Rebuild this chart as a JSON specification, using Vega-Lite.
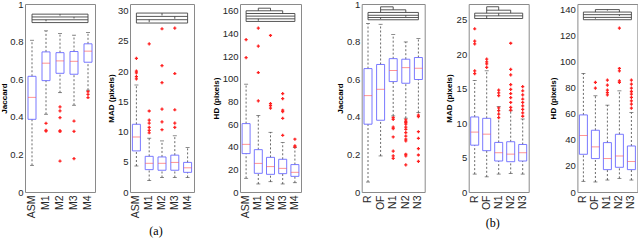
{
"$schema": "https://vega.github.io/schema/vega-lite/v6.json",
"padding": {"left": -1, "top": -2, "right": 0, "bottom": 0},
"config": {
  "font": "Liberation Sans",
  "axis": {"labelFont": "Liberation Sans", "labelFontSize": 9.5, "labelColor": "#262626", "titleFont": "Liberation Sans", "titleFontSize": 8, "titleFontWeight": "bold", "titleColor": "#000000", "ticks": false, "domain": false, "grid": false},
  "axisX": {"labelFontSize": 10.5, "labelAngle": -90, "labelAlign": "right", "labelBaseline": "middle", "labelPadding": 3, "title": null},
  "axisY": {"labelPadding": 2, "titlePadding": 2, "labelOverlap": false, "labelBound": false},
  "view": {"stroke": "#8a8a8a", "strokeWidth": 1}
},
"datasets": {
  "boxes": [
    {"p":1,"g":"ASM","lo":0.142,"q1":0.387,"med":0.504,"q3":0.616,"hi":0.808},
    {"p":1,"g":"M1","lo":0.414,"q1":0.593,"med":0.686,"q3":0.746,"hi":0.858},
    {"p":1,"g":"M2","lo":0.529,"q1":0.632,"med":0.698,"q3":0.742,"hi":0.844},
    {"p":1,"g":"M3","lo":0.462,"q1":0.627,"med":0.696,"q3":0.748,"hi":0.835},
    {"p":1,"g":"M4","lo":0.542,"q1":0.691,"med":0.750,"q3":0.789,"hi":0.849},
    {"p":2,"g":"ASM","lo":4.3,"q1":6.8,"med":9.1,"q3":11.2,"hi":17.7},
    {"p":2,"g":"M1","lo":1.9,"q1":3.7,"med":4.75,"q3":5.9,"hi":8.9},
    {"p":2,"g":"M2","lo":2.4,"q1":3.6,"med":4.75,"q3":5.8,"hi":8.45},
    {"p":2,"g":"M3","lo":2.4,"q1":3.6,"med":4.9,"q3":6.1,"hi":9.3},
    {"p":2,"g":"M4","lo":2.4,"q1":3.25,"med":4.0,"q3":4.9,"hi":7.35},
    {"p":3,"g":"ASM","lo":12.1,"q1":33.9,"med":42.1,"q3":60.4,"hi":95.2},
    {"p":3,"g":"M1","lo":7.1,"q1":16.5,"med":25.3,"q3":37.4,"hi":67.5},
    {"p":3,"g":"M2","lo":9.1,"q1":15.6,"med":22.4,"q3":30.6,"hi":52.7},
    {"p":3,"g":"M3","lo":7.1,"q1":16.2,"med":20.9,"q3":28.9,"hi":43.6},
    {"p":3,"g":"M4","lo":8.2,"q1":13.8,"med":17.4,"q3":24.2,"hi":39.2},
    {"p":4,"g":"R","lo":0.053,"q1":0.361,"med":0.513,"q3":0.657,"hi":0.897},
    {"p":4,"g":"OF","lo":0.192,"q1":0.382,"med":0.547,"q3":0.679,"hi":0.893},
    {"p":4,"g":"N1","lo":0.405,"q1":0.588,"med":0.647,"q3":0.710,"hi":0.838},
    {"p":4,"g":"N2","lo":0.393,"q1":0.579,"med":0.662,"q3":0.707,"hi":0.799},
    {"p":4,"g":"N3","lo":0.423,"q1":0.599,"med":0.659,"q3":0.716,"hi":0.817},
    {"p":5,"g":"R","lo":2.6,"q1":6.8,"med":8.7,"q3":10.9,"hi":16.2},
    {"p":5,"g":"OF","lo":2.2,"q1":6.0,"med":8.4,"q3":10.7,"hi":17.6},
    {"p":5,"g":"N1","lo":2.6,"q1":4.5,"med":5.7,"q3":7.2,"hi":12.4},
    {"p":5,"g":"N2","lo":2.7,"q1":4.4,"med":5.5,"q3":7.3,"hi":11.8},
    {"p":5,"g":"N3","lo":2.6,"q1":4.5,"med":5.7,"q3":6.9,"hi":10.6},
    {"p":6,"g":"R","lo":8.2,"q1":29.0,"med":43.4,"q3":59.3,"hi":91.2},
    {"p":6,"g":"OF","lo":7.7,"q1":25.7,"med":34.7,"q3":47.5,"hi":74.0},
    {"p":6,"g":"N1","lo":9.2,"q1":17.2,"med":25.7,"q3":38.0,"hi":66.8},
    {"p":6,"g":"N2","lo":10.5,"q1":19.0,"med":27.7,"q3":44.4,"hi":77.8},
    {"p":6,"g":"N3","lo":9.2,"q1":17.2,"med":23.4,"q3":35.4,"hi":61.1}
  ],
  "outl": [
    {"p":1,"g":"M1","v":0.366},{"p":1,"g":"M1","v":0.328},{"p":1,"g":"M1","v":0.324},
    {"p":1,"g":"M2","v":0.453},{"p":1,"g":"M2","v":0.432},{"p":1,"g":"M2","v":0.396},{"p":1,"g":"M2","v":0.327},{"p":1,"g":"M2","v":0.322},{"p":1,"g":"M2","v":0.165},
    {"p":1,"g":"M3","v":0.378},{"p":1,"g":"M3","v":0.323},{"p":1,"g":"M3","v":0.178},
    {"p":1,"g":"M4","v":0.535},{"p":1,"g":"M4","v":0.520},{"p":1,"g":"M4","v":0.503},
    {"p":2,"g":"ASM","v":22.1},{"p":2,"g":"ASM","v":20.0},{"p":2,"g":"ASM","v":19.7},{"p":2,"g":"ASM","v":19.1},{"p":2,"g":"ASM","v":18.7},
    {"p":2,"g":"M1","v":24.5},{"p":2,"g":"M1","v":13.4},{"p":2,"g":"M1","v":11.9},{"p":2,"g":"M1","v":11.4},{"p":2,"g":"M1","v":10.7},{"p":2,"g":"M1","v":10.2},{"p":2,"g":"M1","v":9.8},
    {"p":2,"g":"M2","v":27.0},{"p":2,"g":"M2","v":20.9},{"p":2,"g":"M2","v":18.1},{"p":2,"g":"M2","v":13.7},{"p":2,"g":"M2","v":11.6},{"p":2,"g":"M2","v":10.3},
    {"p":2,"g":"M3","v":27.1},{"p":2,"g":"M3","v":19.6},{"p":2,"g":"M3","v":13.6},{"p":2,"g":"M3","v":11.4},{"p":2,"g":"M3","v":10.7},
    {"p":3,"g":"ASM","v":134.6},{"p":3,"g":"ASM","v":118.7},
    {"p":3,"g":"M1","v":144.7},{"p":3,"g":"M1","v":128.8},{"p":3,"g":"M1","v":105.5},{"p":3,"g":"M1","v":80.4},
    {"p":3,"g":"M2","v":138.2},{"p":3,"g":"M2","v":78.1},{"p":3,"g":"M2","v":76.3},{"p":3,"g":"M2","v":74.0},
    {"p":3,"g":"M3","v":86.9},{"p":3,"g":"M3","v":82.5},{"p":3,"g":"M3","v":72.2},{"p":3,"g":"M3","v":71.0},{"p":3,"g":"M3","v":65.1},{"p":3,"g":"M3","v":50.1},
    {"p":3,"g":"M4","v":46.6},{"p":3,"g":"M4","v":40.7},{"p":3,"g":"M4","v":39.8},
    {"p":4,"g":"N1","v":0.396},{"p":4,"g":"N1","v":0.387},{"p":4,"g":"N1","v":0.346},{"p":4,"g":"N1","v":0.337},{"p":4,"g":"N1","v":0.293},{"p":4,"g":"N1","v":0.218},{"p":4,"g":"N1","v":0.192},{"p":4,"g":"N1","v":0.179},
    {"p":4,"g":"N2","v":0.384},{"p":4,"g":"N2","v":0.375},{"p":4,"g":"N2","v":0.369},{"p":4,"g":"N2","v":0.361},{"p":4,"g":"N2","v":0.346},{"p":4,"g":"N2","v":0.334},{"p":4,"g":"N2","v":0.316},{"p":4,"g":"N2","v":0.298},{"p":4,"g":"N2","v":0.281},{"p":4,"g":"N2","v":0.272},{"p":4,"g":"N2","v":0.201},{"p":4,"g":"N2","v":0.192},{"p":4,"g":"N2","v":0.144},
    {"p":4,"g":"N3","v":0.409},{"p":4,"g":"N3","v":0.401},{"p":4,"g":"N3","v":0.321},{"p":4,"g":"N3","v":0.286},{"p":4,"g":"N3","v":0.231},{"p":4,"g":"N3","v":0.197},{"p":4,"g":"N3","v":0.163},
    {"p":5,"g":"R","v":23.7},{"p":5,"g":"R","v":21.9},{"p":5,"g":"R","v":21.5},{"p":5,"g":"R","v":17.6},{"p":5,"g":"R","v":17.2},
    {"p":5,"g":"OF","v":19.3},{"p":5,"g":"OF","v":18.9},{"p":5,"g":"OF","v":18.6},{"p":5,"g":"OF","v":18.1},
    {"p":5,"g":"N1","v":14.8},{"p":5,"g":"N1","v":14.4},{"p":5,"g":"N1","v":14.0},{"p":5,"g":"N1","v":12.2},{"p":5,"g":"N1","v":11.8},{"p":5,"g":"N1","v":11.3},{"p":5,"g":"N1","v":10.8},
    {"p":5,"g":"N2","v":21.6},{"p":5,"g":"N2","v":17.8},{"p":5,"g":"N2","v":17.0},{"p":5,"g":"N2","v":15.6},{"p":5,"g":"N2","v":14.9},{"p":5,"g":"N2","v":14.3},{"p":5,"g":"N2","v":13.7},{"p":5,"g":"N2","v":13.0},{"p":5,"g":"N2","v":12.3},{"p":5,"g":"N2","v":11.9},
    {"p":5,"g":"N3","v":15.3},{"p":5,"g":"N3","v":14.7},{"p":5,"g":"N3","v":14.1},{"p":5,"g":"N3","v":13.5},{"p":5,"g":"N3","v":13.0},{"p":5,"g":"N3","v":12.5},{"p":5,"g":"N3","v":12.0},{"p":5,"g":"N3","v":11.5},{"p":5,"g":"N3","v":11.0},
    {"p":6,"g":"OF","v":84.3},{"p":6,"g":"OF","v":79.9},
    {"p":6,"g":"N1","v":86.1},{"p":6,"g":"N1","v":82.2},{"p":6,"g":"N1","v":78.3},{"p":6,"g":"N1","v":76.5},{"p":6,"g":"N1","v":74.7},
    {"p":6,"g":"N2","v":126.1},{"p":6,"g":"N2","v":95.0},{"p":6,"g":"N2","v":93.2},{"p":6,"g":"N2","v":85.5},{"p":6,"g":"N2","v":84.3},
    {"p":6,"g":"N3","v":86.1},{"p":6,"g":"N3","v":83.0},{"p":6,"g":"N3","v":79.9},{"p":6,"g":"N3","v":77.3},{"p":6,"g":"N3","v":75.3},{"p":6,"g":"N3","v":72.7},{"p":6,"g":"N3","v":70.1},{"p":6,"g":"N3","v":67.6},{"p":6,"g":"N3","v":64.5}
  ],
  "br": [
    {"p":1,"a":"ASM","b":"M4","y":0.947,"y2":0.947},{"p":1,"a":"ASM","b":"M4","y":0.932,"y2":0.932},{"p":1,"a":"ASM","b":"M4","y":0.917,"y2":0.917},{"p":1,"a":"ASM","b":"M4","y":0.902,"y2":0.902},
    {"p":1,"a":"ASM","b":"ASM","y":0.947,"y2":0.902},{"p":1,"a":"M4","b":"M4","y":0.947,"y2":0.902},
    {"p":1,"a":"M2","b":"M2","y":0.947,"y2":0.939},{"p":1,"a":"M3","b":"M3","y":0.932,"y2":0.924},{"p":1,"a":"M1","b":"M1","y":0.917,"y2":0.909},
    {"p":2,"a":"ASM","b":"M4","y":29.6,"y2":29.6},{"p":2,"a":"ASM","b":"M4","y":29.05,"y2":29.05},{"p":2,"a":"ASM","b":"M4","y":28.5,"y2":28.5},{"p":2,"a":"ASM","b":"M4","y":27.95,"y2":27.95},
    {"p":2,"a":"ASM","b":"ASM","y":29.6,"y2":27.95},{"p":2,"a":"M4","b":"M4","y":29.6,"y2":27.95},
    {"p":2,"a":"M2","b":"M2","y":29.6,"y2":29.2},{"p":2,"a":"M3","b":"M3","y":29.05,"y2":28.65},{"p":2,"a":"M1","b":"M1","y":28.5,"y2":28.1},
    {"p":3,"a":"M1","b":"M2","y":162.3,"y2":162.3},{"p":3,"a":"M1","b":"M1","y":162.3,"y2":160},{"p":3,"a":"M2","b":"M2","y":162.3,"y2":160},
    {"p":3,"a":"ASM","b":"M3","y":160,"y2":160},{"p":3,"a":"M3","b":"M3","y":160,"y2":157.6},
    {"p":3,"a":"ASM","b":"M4","y":157.6,"y2":157.6},{"p":3,"a":"ASM","b":"M4","y":155.3,"y2":155.3},{"p":3,"a":"ASM","b":"M4","y":152.9,"y2":152.9},{"p":3,"a":"ASM","b":"M4","y":150.6,"y2":150.6},
    {"p":3,"a":"ASM","b":"ASM","y":160,"y2":150.6},{"p":3,"a":"M4","b":"M4","y":157.6,"y2":150.6},{"p":3,"a":"M1","b":"M1","y":152.9,"y2":151.2},
    {"p":4,"a":"OF","b":"N1","y":0.986,"y2":0.986},{"p":4,"a":"OF","b":"OF","y":0.986,"y2":0.956},{"p":4,"a":"N1","b":"N1","y":0.986,"y2":0.970},
    {"p":4,"a":"OF","b":"N2","y":0.970,"y2":0.970},{"p":4,"a":"N2","b":"N2","y":0.970,"y2":0.956},
    {"p":4,"a":"R","b":"N3","y":0.956,"y2":0.956},{"p":4,"a":"R","b":"N3","y":0.941,"y2":0.941},{"p":4,"a":"R","b":"N3","y":0.929,"y2":0.929},{"p":4,"a":"R","b":"N3","y":0.917,"y2":0.917},
    {"p":4,"a":"R","b":"R","y":0.956,"y2":0.917},{"p":4,"a":"N3","b":"N3","y":0.956,"y2":0.917},{"p":4,"a":"N2","b":"N2","y":0.941,"y2":0.933},{"p":4,"a":"OF","b":"OF","y":0.929,"y2":0.921},
    {"p":5,"a":"OF","b":"N1","y":26.9,"y2":26.9},{"p":5,"a":"OF","b":"OF","y":26.9,"y2":25.97},{"p":5,"a":"N1","b":"N1","y":26.9,"y2":26.4},
    {"p":5,"a":"OF","b":"N2","y":26.4,"y2":26.4},{"p":5,"a":"N2","b":"N2","y":26.4,"y2":25.97},
    {"p":5,"a":"R","b":"N3","y":25.97,"y2":25.97},{"p":5,"a":"R","b":"N3","y":25.58,"y2":25.58},{"p":5,"a":"R","b":"N3","y":25.19,"y2":25.19},
    {"p":5,"a":"R","b":"R","y":25.97,"y2":25.19},{"p":5,"a":"N3","b":"N3","y":25.97,"y2":25.19},{"p":5,"a":"N1","b":"N1","y":25.97,"y2":25.58},{"p":5,"a":"OF","b":"OF","y":25.58,"y2":25.19},
    {"p":6,"a":"OF","b":"N2","y":140.3,"y2":140.3},{"p":6,"a":"OF","b":"OF","y":140.3,"y2":138.4},{"p":6,"a":"N2","b":"N2","y":140.3,"y2":138.4},{"p":6,"a":"N1","b":"N1","y":140.3,"y2":139.5},
    {"p":6,"a":"R","b":"N3","y":138.4,"y2":138.4},{"p":6,"a":"R","b":"N3","y":136.4,"y2":136.4},{"p":6,"a":"R","b":"N3","y":134.3,"y2":134.3},{"p":6,"a":"R","b":"N3","y":132.5,"y2":132.5},
    {"p":6,"a":"R","b":"R","y":138.4,"y2":132.5},{"p":6,"a":"N3","b":"N3","y":138.4,"y2":132.5},{"p":6,"a":"N2","b":"N2","y":136.4,"y2":135.4},{"p":6,"a":"OF","b":"OF","y":134.3,"y2":133.3}
  ]
},
"spacing": 33.7,
"hconcat": [
 {"spacing": 16, "hconcat": [
  {"spacing": 10, "hconcat": [
   {"width": 70, "height": 188,
    "layer": [
     {"data": {"name": "boxes"}, "transform": [{"filter": "datum.p === 1"}], "mark": {"type": "rule", "strokeDash": [2, 2], "color": "#444444", "strokeWidth": 0.8},
      "encoding": {"x": {"field": "g", "type": "nominal", "scale": {"domain": ["ASM","M1","M2","M3","M4"], "paddingInner": 0, "paddingOuter": 0}, "axis": {"title": null}},
       "y": {"field": "lo", "type": "quantitative", "scale": {"domain": [0, 1.001], "nice": false}, "axis": {"title": "Jaccard", "tickCount": 6, "format": ".1~f", "labelOverlap": false, "labelBound": false, "labelFlush": false, "minExtent": 15, "maxExtent": 15}}, "y2": {"field": "q1"}}},
     {"data": {"name": "boxes"}, "transform": [{"filter": "datum.p === 1"}], "mark": {"type": "rule", "strokeDash": [2, 2], "color": "#444444", "strokeWidth": 0.8},
      "encoding": {"x": {"field": "g", "type": "nominal"}, "y": {"field": "q3", "type": "quantitative"}, "y2": {"field": "hi"}}},
     {"data": {"name": "boxes"}, "transform": [{"filter": "datum.p === 1"}], "mark": {"type": "tick", "size": 4, "thickness": 0.8, "color": "#333333"},
      "encoding": {"x": {"field": "g", "type": "nominal"}, "y": {"field": "lo", "type": "quantitative"}}},
     {"data": {"name": "boxes"}, "transform": [{"filter": "datum.p === 1"}], "mark": {"type": "tick", "size": 4, "thickness": 0.8, "color": "#333333"},
      "encoding": {"x": {"field": "g", "type": "nominal"}, "y": {"field": "hi", "type": "quantitative"}}},
     {"data": {"name": "boxes"}, "transform": [{"filter": "datum.p === 1"}], "mark": {"type": "bar", "size": 8, "fill": "#ffffff", "fillOpacity": 0, "stroke": "#6a6aff", "strokeWidth": 0.9},
      "encoding": {"x": {"field": "g", "type": "nominal"}, "y": {"field": "q1", "type": "quantitative"}, "y2": {"field": "q3"}}},
     {"data": {"name": "boxes"}, "transform": [{"filter": "datum.p === 1"}], "mark": {"type": "tick", "size": 8, "thickness": 0.9, "color": "#ff5555"},
      "encoding": {"x": {"field": "g", "type": "nominal"}, "y": {"field": "med", "type": "quantitative"}}},
     {"data": {"name": "outl"}, "transform": [{"filter": "datum.p === 1"}], "mark": {"type": "point", "shape": "cross", "filled": true, "size": 10, "color": "#ff2020", "opacity": 1},
      "encoding": {"x": {"field": "g", "type": "nominal"}, "y": {"field": "v", "type": "quantitative"}}},
     {"data": {"name": "br"}, "transform": [{"filter": "datum.p === 1"}], "mark": {"type": "rule", "color": "#444444", "strokeWidth": 0.9},
      "encoding": {"x": {"field": "a", "type": "nominal"}, "x2": {"field": "b"}, "y": {"field": "y", "type": "quantitative"}, "y2": {"field": "y2"}}}
    ]},
   {"width": 64, "height": 188,
    "title": {"text": "(a)", "orient": "bottom", "font": "Liberation Serif", "fontSize": 12, "fontWeight": "normal", "color": "#000000", "offset": 8, "dx": -6},
    "layer": [
     {"data": {"name": "boxes"}, "transform": [{"filter": "datum.p === 2"}], "mark": {"type": "rule", "strokeDash": [2, 2], "color": "#444444", "strokeWidth": 0.8},
      "encoding": {"x": {"field": "g", "type": "nominal", "scale": {"domain": ["ASM","M1","M2","M3","M4"], "paddingInner": 0, "paddingOuter": 0}, "axis": {"title": null}},
       "y": {"field": "lo", "type": "quantitative", "scale": {"domain": [0, 31.1], "nice": false}, "axis": {"title": "MAD (pixels)", "tickCount": 7, "format": "d", "labelOverlap": false, "minExtent": 13, "maxExtent": 13}}, "y2": {"field": "q1"}}},
     {"data": {"name": "boxes"}, "transform": [{"filter": "datum.p === 2"}], "mark": {"type": "rule", "strokeDash": [2, 2], "color": "#444444", "strokeWidth": 0.8},
      "encoding": {"x": {"field": "g", "type": "nominal"}, "y": {"field": "q3", "type": "quantitative"}, "y2": {"field": "hi"}}},
     {"data": {"name": "boxes"}, "transform": [{"filter": "datum.p === 2"}], "mark": {"type": "tick", "size": 4, "thickness": 0.8, "color": "#333333"},
      "encoding": {"x": {"field": "g", "type": "nominal"}, "y": {"field": "lo", "type": "quantitative"}}},
     {"data": {"name": "boxes"}, "transform": [{"filter": "datum.p === 2"}], "mark": {"type": "tick", "size": 4, "thickness": 0.8, "color": "#333333"},
      "encoding": {"x": {"field": "g", "type": "nominal"}, "y": {"field": "hi", "type": "quantitative"}}},
     {"data": {"name": "boxes"}, "transform": [{"filter": "datum.p === 2"}], "mark": {"type": "bar", "size": 8, "fill": "#ffffff", "fillOpacity": 0, "stroke": "#6a6aff", "strokeWidth": 0.9},
      "encoding": {"x": {"field": "g", "type": "nominal"}, "y": {"field": "q1", "type": "quantitative"}, "y2": {"field": "q3"}}},
     {"data": {"name": "boxes"}, "transform": [{"filter": "datum.p === 2"}], "mark": {"type": "tick", "size": 8, "thickness": 0.9, "color": "#ff5555"},
      "encoding": {"x": {"field": "g", "type": "nominal"}, "y": {"field": "med", "type": "quantitative"}}},
     {"data": {"name": "outl"}, "transform": [{"filter": "datum.p === 2"}], "mark": {"type": "point", "shape": "cross", "filled": true, "size": 10, "color": "#ff2020", "opacity": 1},
      "encoding": {"x": {"field": "g", "type": "nominal"}, "y": {"field": "v", "type": "quantitative"}}},
     {"data": {"name": "br"}, "transform": [{"filter": "datum.p === 2"}], "mark": {"type": "rule", "color": "#444444", "strokeWidth": 0.9},
      "encoding": {"x": {"field": "a", "type": "nominal"}, "x2": {"field": "b"}, "y": {"field": "y", "type": "quantitative"}, "y2": {"field": "y2"}}}
    ]}
  ]},
  {"width": 61, "height": 188,
   "layer": [
     {"data": {"name": "boxes"}, "transform": [{"filter": "datum.p === 3"}], "mark": {"type": "rule", "strokeDash": [2, 2], "color": "#444444", "strokeWidth": 0.8},
      "encoding": {"x": {"field": "g", "type": "nominal", "scale": {"domain": ["ASM","M1","M2","M3","M4"], "paddingInner": 0, "paddingOuter": 0}, "axis": {"title": null}},
       "y": {"field": "lo", "type": "quantitative", "scale": {"domain": [0, 166], "nice": false}, "axis": {"title": "HD (pixels)", "tickCount": 9, "format": "d", "labelOverlap": false, "minExtent": 18, "maxExtent": 18}}, "y2": {"field": "q1"}}},
     {"data": {"name": "boxes"}, "transform": [{"filter": "datum.p === 3"}], "mark": {"type": "rule", "strokeDash": [2, 2], "color": "#444444", "strokeWidth": 0.8},
      "encoding": {"x": {"field": "g", "type": "nominal"}, "y": {"field": "q3", "type": "quantitative"}, "y2": {"field": "hi"}}},
     {"data": {"name": "boxes"}, "transform": [{"filter": "datum.p === 3"}], "mark": {"type": "tick", "size": 4, "thickness": 0.8, "color": "#333333"},
      "encoding": {"x": {"field": "g", "type": "nominal"}, "y": {"field": "lo", "type": "quantitative"}}},
     {"data": {"name": "boxes"}, "transform": [{"filter": "datum.p === 3"}], "mark": {"type": "tick", "size": 4, "thickness": 0.8, "color": "#333333"},
      "encoding": {"x": {"field": "g", "type": "nominal"}, "y": {"field": "hi", "type": "quantitative"}}},
     {"data": {"name": "boxes"}, "transform": [{"filter": "datum.p === 3"}], "mark": {"type": "bar", "size": 8, "fill": "#ffffff", "fillOpacity": 0, "stroke": "#6a6aff", "strokeWidth": 0.9},
      "encoding": {"x": {"field": "g", "type": "nominal"}, "y": {"field": "q1", "type": "quantitative"}, "y2": {"field": "q3"}}},
     {"data": {"name": "boxes"}, "transform": [{"filter": "datum.p === 3"}], "mark": {"type": "tick", "size": 8, "thickness": 0.9, "color": "#ff5555"},
      "encoding": {"x": {"field": "g", "type": "nominal"}, "y": {"field": "med", "type": "quantitative"}}},
     {"data": {"name": "outl"}, "transform": [{"filter": "datum.p === 3"}], "mark": {"type": "point", "shape": "cross", "filled": true, "size": 10, "color": "#ff2020", "opacity": 1},
      "encoding": {"x": {"field": "g", "type": "nominal"}, "y": {"field": "v", "type": "quantitative"}}},
     {"data": {"name": "br"}, "transform": [{"filter": "datum.p === 3"}], "mark": {"type": "rule", "color": "#444444", "strokeWidth": 0.9},
      "encoding": {"x": {"field": "a", "type": "nominal"}, "x2": {"field": "b"}, "y": {"field": "y", "type": "quantitative"}, "y2": {"field": "y2"}}}
   ]}
 ]},
 {"spacing": 19, "hconcat": [
  {"width": 63, "height": 188,
   "layer": [
     {"data": {"name": "boxes"}, "transform": [{"filter": "datum.p === 4"}], "mark": {"type": "rule", "strokeDash": [2, 2], "color": "#444444", "strokeWidth": 0.8},
      "encoding": {"x": {"field": "g", "type": "nominal", "scale": {"domain": ["R","OF","N1","N2","N3"], "paddingInner": 0, "paddingOuter": 0}, "axis": {"title": null}},
       "y": {"field": "lo", "type": "quantitative", "scale": {"domain": [0, 1.001], "nice": false}, "axis": {"title": "Jaccard", "tickCount": 6, "format": ".1~f", "labelOverlap": false, "labelBound": false, "labelFlush": false, "minExtent": 15, "maxExtent": 15}}, "y2": {"field": "q1"}}},
     {"data": {"name": "boxes"}, "transform": [{"filter": "datum.p === 4"}], "mark": {"type": "rule", "strokeDash": [2, 2], "color": "#444444", "strokeWidth": 0.8},
      "encoding": {"x": {"field": "g", "type": "nominal"}, "y": {"field": "q3", "type": "quantitative"}, "y2": {"field": "hi"}}},
     {"data": {"name": "boxes"}, "transform": [{"filter": "datum.p === 4"}], "mark": {"type": "tick", "size": 4, "thickness": 0.8, "color": "#333333"},
      "encoding": {"x": {"field": "g", "type": "nominal"}, "y": {"field": "lo", "type": "quantitative"}}},
     {"data": {"name": "boxes"}, "transform": [{"filter": "datum.p === 4"}], "mark": {"type": "tick", "size": 4, "thickness": 0.8, "color": "#333333"},
      "encoding": {"x": {"field": "g", "type": "nominal"}, "y": {"field": "hi", "type": "quantitative"}}},
     {"data": {"name": "boxes"}, "transform": [{"filter": "datum.p === 4"}], "mark": {"type": "bar", "size": 8, "fill": "#ffffff", "fillOpacity": 0, "stroke": "#6a6aff", "strokeWidth": 0.9},
      "encoding": {"x": {"field": "g", "type": "nominal"}, "y": {"field": "q1", "type": "quantitative"}, "y2": {"field": "q3"}}},
     {"data": {"name": "boxes"}, "transform": [{"filter": "datum.p === 4"}], "mark": {"type": "tick", "size": 8, "thickness": 0.9, "color": "#ff5555"},
      "encoding": {"x": {"field": "g", "type": "nominal"}, "y": {"field": "med", "type": "quantitative"}}},
     {"data": {"name": "outl"}, "transform": [{"filter": "datum.p === 4"}], "mark": {"type": "point", "shape": "cross", "filled": true, "size": 10, "color": "#ff2020", "opacity": 1},
      "encoding": {"x": {"field": "g", "type": "nominal"}, "y": {"field": "v", "type": "quantitative"}}},
     {"data": {"name": "br"}, "transform": [{"filter": "datum.p === 4"}], "mark": {"type": "rule", "color": "#444444", "strokeWidth": 0.9},
      "encoding": {"x": {"field": "a", "type": "nominal"}, "x2": {"field": "b"}, "y": {"field": "y", "type": "quantitative"}, "y2": {"field": "y2"}}}
   ]},
  {"spacing": 18.7, "hconcat": [
   {"width": 60, "height": 188,
    "title": {"text": "(b)", "orient": "bottom", "font": "Liberation Serif", "fontSize": 12, "fontWeight": "normal", "color": "#000000", "offset": 8, "dx": -6},
    "layer": [
     {"data": {"name": "boxes"}, "transform": [{"filter": "datum.p === 5"}], "mark": {"type": "rule", "strokeDash": [2, 2], "color": "#444444", "strokeWidth": 0.8},
      "encoding": {"x": {"field": "g", "type": "nominal", "scale": {"domain": ["R","OF","N1","N2","N3"], "paddingInner": 0, "paddingOuter": 0}, "axis": {"title": null}},
       "y": {"field": "lo", "type": "quantitative", "scale": {"domain": [0, 27.3], "nice": false}, "axis": {"title": "MAD (pixels)", "tickCount": 6, "format": "d", "labelOverlap": false, "minExtent": 13, "maxExtent": 13}}, "y2": {"field": "q1"}}},
     {"data": {"name": "boxes"}, "transform": [{"filter": "datum.p === 5"}], "mark": {"type": "rule", "strokeDash": [2, 2], "color": "#444444", "strokeWidth": 0.8},
      "encoding": {"x": {"field": "g", "type": "nominal"}, "y": {"field": "q3", "type": "quantitative"}, "y2": {"field": "hi"}}},
     {"data": {"name": "boxes"}, "transform": [{"filter": "datum.p === 5"}], "mark": {"type": "tick", "size": 4, "thickness": 0.8, "color": "#333333"},
      "encoding": {"x": {"field": "g", "type": "nominal"}, "y": {"field": "lo", "type": "quantitative"}}},
     {"data": {"name": "boxes"}, "transform": [{"filter": "datum.p === 5"}], "mark": {"type": "tick", "size": 4, "thickness": 0.8, "color": "#333333"},
      "encoding": {"x": {"field": "g", "type": "nominal"}, "y": {"field": "hi", "type": "quantitative"}}},
     {"data": {"name": "boxes"}, "transform": [{"filter": "datum.p === 5"}], "mark": {"type": "bar", "size": 8, "fill": "#ffffff", "fillOpacity": 0, "stroke": "#6a6aff", "strokeWidth": 0.9},
      "encoding": {"x": {"field": "g", "type": "nominal"}, "y": {"field": "q1", "type": "quantitative"}, "y2": {"field": "q3"}}},
     {"data": {"name": "boxes"}, "transform": [{"filter": "datum.p === 5"}], "mark": {"type": "tick", "size": 8, "thickness": 0.9, "color": "#ff5555"},
      "encoding": {"x": {"field": "g", "type": "nominal"}, "y": {"field": "med", "type": "quantitative"}}},
     {"data": {"name": "outl"}, "transform": [{"filter": "datum.p === 5"}], "mark": {"type": "point", "shape": "cross", "filled": true, "size": 10, "color": "#ff2020", "opacity": 1},
      "encoding": {"x": {"field": "g", "type": "nominal"}, "y": {"field": "v", "type": "quantitative"}}},
     {"data": {"name": "br"}, "transform": [{"filter": "datum.p === 5"}], "mark": {"type": "rule", "color": "#444444", "strokeWidth": 0.9},
      "encoding": {"x": {"field": "a", "type": "nominal"}, "x2": {"field": "b"}, "y": {"field": "y", "type": "quantitative"}, "y2": {"field": "y2"}}}
    ]},
   {"width": 60, "height": 188,
    "layer": [
     {"data": {"name": "boxes"}, "transform": [{"filter": "datum.p === 6"}], "mark": {"type": "rule", "strokeDash": [2, 2], "color": "#444444", "strokeWidth": 0.8},
      "encoding": {"x": {"field": "g", "type": "nominal", "scale": {"domain": ["R","OF","N1","N2","N3"], "paddingInner": 0, "paddingOuter": 0}, "axis": {"title": null}},
       "y": {"field": "lo", "type": "quantitative", "scale": {"domain": [0, 144.6], "nice": false}, "axis": {"title": "HD (pixels)", "tickCount": 8, "format": "d", "labelOverlap": false, "minExtent": 18, "maxExtent": 18}}, "y2": {"field": "q1"}}},
     {"data": {"name": "boxes"}, "transform": [{"filter": "datum.p === 6"}], "mark": {"type": "rule", "strokeDash": [2, 2], "color": "#444444", "strokeWidth": 0.8},
      "encoding": {"x": {"field": "g", "type": "nominal"}, "y": {"field": "q3", "type": "quantitative"}, "y2": {"field": "hi"}}},
     {"data": {"name": "boxes"}, "transform": [{"filter": "datum.p === 6"}], "mark": {"type": "tick", "size": 4, "thickness": 0.8, "color": "#333333"},
      "encoding": {"x": {"field": "g", "type": "nominal"}, "y": {"field": "lo", "type": "quantitative"}}},
     {"data": {"name": "boxes"}, "transform": [{"filter": "datum.p === 6"}], "mark": {"type": "tick", "size": 4, "thickness": 0.8, "color": "#333333"},
      "encoding": {"x": {"field": "g", "type": "nominal"}, "y": {"field": "hi", "type": "quantitative"}}},
     {"data": {"name": "boxes"}, "transform": [{"filter": "datum.p === 6"}], "mark": {"type": "bar", "size": 8, "fill": "#ffffff", "fillOpacity": 0, "stroke": "#6a6aff", "strokeWidth": 0.9},
      "encoding": {"x": {"field": "g", "type": "nominal"}, "y": {"field": "q1", "type": "quantitative"}, "y2": {"field": "q3"}}},
     {"data": {"name": "boxes"}, "transform": [{"filter": "datum.p === 6"}], "mark": {"type": "tick", "size": 8, "thickness": 0.9, "color": "#ff5555"},
      "encoding": {"x": {"field": "g", "type": "nominal"}, "y": {"field": "med", "type": "quantitative"}}},
     {"data": {"name": "outl"}, "transform": [{"filter": "datum.p === 6"}], "mark": {"type": "point", "shape": "cross", "filled": true, "size": 10, "color": "#ff2020", "opacity": 1},
      "encoding": {"x": {"field": "g", "type": "nominal"}, "y": {"field": "v", "type": "quantitative"}}},
     {"data": {"name": "br"}, "transform": [{"filter": "datum.p === 6"}], "mark": {"type": "rule", "color": "#444444", "strokeWidth": 0.9},
      "encoding": {"x": {"field": "a", "type": "nominal"}, "x2": {"field": "b"}, "y": {"field": "y", "type": "quantitative"}, "y2": {"field": "y2"}}}
    ]}
  ]}
 ]}
]
}
